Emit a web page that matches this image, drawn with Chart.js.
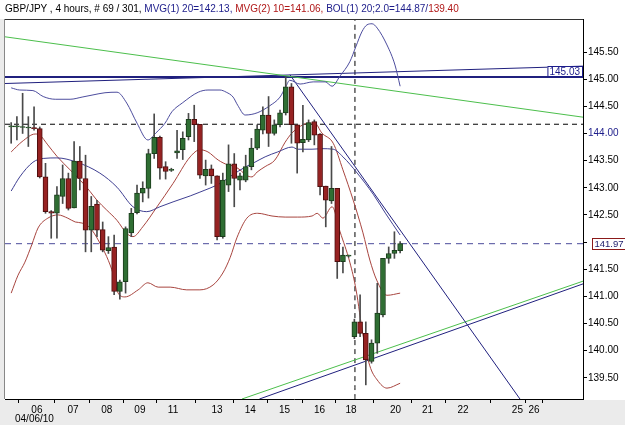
<!DOCTYPE html>
<html><head><meta charset="utf-8">
<script src="https://cdn.jsdelivr.net/npm/chart.js@4.4.1/dist/chart.umd.min.js"></script>
<style>
html,body{margin:0;padding:0;background:#fff;}
#wrap{position:relative;width:625px;height:425px;overflow:hidden;}
canvas{position:absolute;left:0;top:0;}
#title{position:absolute;left:5px;top:3px;font:10px "Liberation Sans",Arial,sans-serif;white-space:nowrap;color:#000;}
#date{position:absolute;left:15px;top:413px;font:10px "Liberation Sans",Arial,sans-serif;color:#000;}
.nv{color:#1c1c8a}.rd{color:#b01818}
</style></head><body>
<div id="wrap"><canvas id="c" width="625" height="425"></canvas>
<div id="title">GBP/JPY , 4 hours, # 69 / 301, <span class="nv">MVG(1) 20=142.13, </span><span class="rd">MVG(2) 10=141.06, </span><span class="nv">BOL(1) 20;2.0=144.87/</span><span class="rd">139.40</span></div>
<div id="date">04/06/10</div></div>
<script>
// ---- candle data (4-hour bars) ----
const opens  = [144.12,144.12,144.11,144.10,144.10,144.09,143.20,142.56,142.53,142.84,143.17,142.63,143.49,143.17,142.22,142.70,142.23,141.84,141.91,141.09,141.27,142.17,142.54,142.90,142.99,143.63,143.93,143.39,143.32,143.64,143.70,143.94,144.26,144.17,143.22,143.35,143.22,142.10,143.05,143.44,143.14,143.14,143.39,143.73,144.06,144.34,144.00,144.16,144.38,144.86,144.16,143.83,143.88,144.22,143.99,143.03,142.76,142.99,141.64,141.74,140.26,140.53,140.32,139.80,140.14,140.66,141.70,141.79,141.84];
const highs  = [144.20,144.31,144.74,144.31,144.49,144.12,143.45,142.58,143.02,143.42,143.27,143.85,143.76,143.60,142.84,142.77,142.37,142.10,142.13,141.30,142.28,142.62,143.05,143.11,143.71,144.36,143.95,143.48,143.36,144.06,144.03,144.37,144.52,144.17,143.51,143.42,143.22,143.27,143.79,143.63,143.27,143.60,143.91,144.16,144.49,144.68,144.25,144.43,145.04,144.92,144.16,144.52,144.25,144.25,144.00,143.03,143.76,142.99,141.91,141.76,140.58,141.03,140.53,140.20,141.24,141.70,141.91,142.19,142.01];
const lows   = [143.82,143.88,144.00,143.76,144.06,143.18,142.53,142.07,142.07,142.71,142.59,142.63,142.96,141.82,141.82,142.10,141.82,141.79,141.03,140.95,141.06,142.10,142.52,142.74,142.81,143.54,143.16,143.16,143.30,143.54,143.52,143.88,143.85,143.17,143.05,143.08,142.04,142.07,142.93,142.65,142.96,143.11,143.33,143.70,143.99,143.76,143.97,144.12,144.34,143.82,143.27,143.66,143.85,143.79,142.87,142.28,142.71,141.33,141.43,141.72,140.22,140.26,139.37,139.77,139.95,140.62,141.61,141.70,141.80];
const closes = [144.14,144.13,144.12,144.11,144.09,143.20,142.56,142.53,142.87,143.17,142.62,143.49,143.17,142.22,142.66,142.22,141.85,141.90,141.09,141.27,142.25,142.53,142.90,142.99,143.63,143.93,143.36,143.30,143.34,143.68,143.91,144.26,144.16,143.23,143.34,143.22,142.10,143.14,143.44,143.17,143.22,143.39,143.73,144.08,144.34,144.00,144.16,144.38,144.86,144.16,143.82,143.89,144.20,143.97,143.02,142.77,142.99,141.64,141.76,141.74,140.53,140.32,139.83,140.14,140.69,141.70,141.79,141.85,141.97];

// ---- x axis day labels (positions in bar units) ----
const xTickPos    = [4.5,10.8,16.7,22.5,28.3,36,41.8,47.8,53.9,59.4,67.2,72.8,79,88.5,91.4];
const xTickLabels = ['06','07','08','09','11','13','14','15','16','18','20','21','22','25','26'];

// ---- indicators ----
const bbUpperX = [0,1.5,3.8,5.6,7.7,10.3,12.4,14.3,16.4,18.5,20.2,22,23.9,25.3,26.9,28.1,29.9,32.7,34.4,36.5,37.6,38.8,39.6,40.9,43,45.2,47,48,48.7,50.5,52.8,54.9,56.1,57.5,59.2,60.3,61.3,62.2,63.1,64,65.7,67.1,68];
const bbUpperY = [144.84,144.80,144.79,144.68,144.63,144.63,144.67,144.71,144.75,144.76,144.56,144.19,143.88,144.01,144.19,144.40,144.56,144.76,144.80,144.80,144.76,144.67,144.52,144.34,144.38,144.51,144.67,144.86,144.98,144.91,144.95,144.95,144.87,145.06,145.32,145.61,145.87,146.00,146.02,145.94,145.63,145.26,144.87];
const bbMidX = [0,1.5,3.8,5.6,8,11.5,15.5,18.5,21.3,23.7,26,28.3,31.3,33,36.5,38.6,40.9,42.6,44.4,46.6,49.1,50.1,52.6,54.3,56.3,58,60.5,63.3,65.5,68];
const bbMidY = [142.94,143.20,143.47,143.54,143.55,143.47,143.27,143.01,142.65,142.56,142.65,142.74,142.85,142.92,143.08,143.23,143.38,143.47,143.57,143.66,143.75,143.71,143.71,143.72,143.71,143.57,143.27,142.88,142.52,142.13];
const sma10X = [0,1.9,4.2,5,6.4,8,10.3,12.6,13.8,15,16.7,18.5,20.2,21.3,23,25.5,28.3,31.3,33,34.4,36.2,37.9,38.9,40,41.1,42.1,43,44.4,46.1,47.9,49.1,50.1,51.9,53.1,54.3,56.3,58,59.8,61.5,62.7,63.9,65.7,68];
const sma10Y = [143.66,143.85,143.99,143.97,143.79,143.58,143.33,143.08,142.93,142.77,142.59,142.40,142.16,142.10,142.28,142.65,143.08,143.57,143.70,143.66,143.51,143.42,143.40,143.33,143.23,143.20,143.29,143.39,143.51,143.84,144.01,144.10,144.19,144.19,144.01,143.82,143.33,142.77,142.17,141.67,141.30,141.02,141.06];
const bbLowX = [0,1.2,2.4,3.6,4.7,6.4,8.2,9.9,11.2,12.4,13.8,15.2,17.6,18.7,19.9,22.2,23.9,25.7,27.8,30.7,33,35.3,37,38.3,39.5,41.2,43.1,45.6,47.9,50.1,52.6,53.5,54.5,56.1,57.5,59.2,60.3,61.5,62.7,64,65.7,68];
const bbLowY = [141.06,141.39,141.63,141.95,142.26,142.44,142.50,142.44,142.37,142.35,142.26,142.04,141.49,141.06,140.99,141.12,141.25,141.17,141.17,141.12,141.12,141.21,141.43,141.72,142.09,142.44,142.53,142.48,142.46,142.46,142.48,142.53,142.44,142.65,142.19,141.63,141.12,140.29,139.72,139.46,139.31,139.40];

// ---- drawn trend lines / levels (x in bar units, y in price) ----
const greenTopLine   = {x:[-1.08,99.97], y:[145.78,144.30]};
const navyLevelLine  = {x:[-1.08,99.97], y:[145.04,145.04]};
const navyRiseTop    = {x:[-1.08,99.97], y:[144.92,145.24]};
const navyDownLine   = {x:[48.74,88.95], y:[145.08,139.11]};
const greenUpLine    = {x:[40.35,99.97], y:[139.11,141.28]};
const navyUpLine     = {x:[43.4,99.97],  y:[139.11,141.23]};
const blackDashLevel = 144.17;
const lastPrice      = 141.97;
const levelLabel     = '145.03';
const vLineX         = 60.1;

const X_MIN = -1.08, X_MAX = 99.97, Y_MIN = 139.11, Y_MAX = 146.108;

const pts = (xs, ys) => xs.map((x, i) => ({x, y: ys[i]}));
const idx = opens.map((_, i) => i);
const up = idx.map(i => closes[i] >= opens[i]);

const bodies = idx.map(i => ({x: i, y: [Math.min(opens[i], closes[i]), Math.max(opens[i], closes[i])]}));
const wicks  = idx.map(i => ({x: i, y: [lows[i], highs[i]]}));

function lineDs(data, color, width, dash, order) {
  return {type:'line', data, borderColor:color, borderWidth:width, borderDash:dash||[],
    pointRadius:0, fill:false, cubicInterpolationMode:'monotone', order};
}

const bgPlugin = {
  id:'bg',
  beforeDraw(chart){
    const {ctx, chartArea:a, width, height} = chart;
    ctx.save();
    ctx.fillStyle = '#ffffff'; ctx.fillRect(0,0,width,height);
    ctx.fillStyle = '#ebebeb';
    ctx.fillRect(0, a.bottom + 1, width, height - a.bottom);
    ctx.fillRect(0, a.top, a.left - 1, height - a.top);
    ctx.restore();
  },
  afterDraw(chart){
    const {ctx, chartArea:a, scales} = chart;
    ctx.save();
    ctx.strokeStyle = '#333'; ctx.lineWidth = 1;
    ctx.beginPath(); ctx.moveTo(a.left, a.top + 0.5); ctx.lineTo(a.right, a.top + 0.5); ctx.stroke();
    ctx.strokeStyle = '#888';
    ctx.beginPath(); ctx.moveTo(a.left - 0.5, a.top); ctx.lineTo(a.left - 0.5, a.bottom); ctx.stroke();
    ctx.font = '10px "Liberation Sans", Arial, sans-serif';
    ctx.textBaseline = 'middle';
    // level label box inside plot
    const yl = scales.y.getPixelForValue(navyLevelLine.y[1]);
    const w1 = ctx.measureText(levelLabel).width + 4;
    const bx = a.right - 1 - w1, by = Math.round(yl) - 11;
    ctx.fillStyle = '#fff'; ctx.fillRect(bx, by, w1, 10);
    ctx.strokeStyle = '#1c1c8a'; ctx.strokeRect(bx + 0.5, by + 0.5, w1, 10);
    ctx.fillStyle = '#1c1c8a'; ctx.textAlign = 'left'; ctx.fillText(levelLabel, bx + 2, by + 6);
    // last price box on axis
    ctx.font = '9.5px "Liberation Sans", Arial, sans-serif';
    const yp = Math.round(scales.y.getPixelForValue(lastPrice));
    const txt = lastPrice.toFixed(2);
    const w2 = ctx.measureText(txt).width + 4;
    const px = a.right + 9;
    ctx.fillStyle = '#fff'; ctx.fillRect(px, yp - 6, w2, 12);
    ctx.strokeStyle = '#8b1a1a'; ctx.strokeRect(px + 0.5, yp - 5.5, w2, 11);
    ctx.fillStyle = '#1c1c6a'; ctx.fillText(txt, px + 2.5, yp + 0.5);
    ctx.restore();
  }
};

new Chart(document.getElementById('c'), {
  type:'bar',
  data:{datasets:[
    {type:'bar', data:bodies, grouped:false, barThickness:5, minBarLength:1, borderSkipped:false, borderWidth:1,
     backgroundColor: idx.map(i => up[i] ? '#2f6e33' : '#962222'),
     borderColor: idx.map(i => up[i] ? '#1b3d1c' : '#4e0e0e'), order:0},
    {type:'bar', data:wicks, grouped:false, barThickness:1, borderWidth:0, backgroundColor:'#4a4a4a', order:1},
    lineDs(pts(bbUpperX,bbUpperY), '#4d4d9e', 1, null, 2),
    lineDs(pts(bbMidX,bbMidY), '#3f3f92', 1, null, 2),
    lineDs(pts(sma10X,sma10Y), '#a8453f', 1, null, 2),
    lineDs(pts(bbLowX,bbLowY), '#a8453f', 1, null, 2),
    lineDs(pts(greenTopLine.x,greenTopLine.y), '#4cbf4c', 1, null, 3),
    lineDs(pts(navyLevelLine.x,navyLevelLine.y), '#20207e', 2, null, 3),
    lineDs(pts(navyRiseTop.x,navyRiseTop.y), '#20207e', 1, null, 3),
    lineDs(pts(navyDownLine.x,navyDownLine.y), '#20207e', 1, null, 3),
    lineDs(pts(greenUpLine.x,greenUpLine.y), '#4cbf4c', 1, null, 3),
    lineDs(pts(navyUpLine.x,navyUpLine.y), '#20207e', 1, null, 3),
    lineDs([{x:X_MIN,y:blackDashLevel},{x:X_MAX,y:blackDashLevel}], '#000', 1, [5,4], 4),
    lineDs([{x:X_MIN,y:lastPrice},{x:X_MAX,y:lastPrice}], '#4a4a9a', 1, [6,5], 4),
    lineDs([{x:vLineX,y:Y_MIN},{x:vLineX,y:Y_MAX}], '#000', 1, [5,4], 4)
  ]},
  options:{
    responsive:false, animation:false, devicePixelRatio:1,
    layout:{padding:{top:19, left:5, right:0, bottom:0}},
    plugins:{legend:{display:false}, tooltip:{enabled:false}, title:{display:false}},
    scales:{
      x:{type:'linear', min:X_MIN, max:X_MAX, offset:false,
        afterBuildTicks(s){ s.ticks = xTickPos.map(v => ({value:v})); },
        afterFit(s){ s.height = 26; },
        ticks:{autoSkip:false, maxRotation:0, padding:1, color:'#000',
          font:{family:'"Liberation Sans", Arial, sans-serif', size:10},
          callback:(v, i) => xTickLabels[i]},
        grid:{drawOnChartArea:false, drawTicks:true, tickLength:4, color:'#000'},
        border:{display:true, color:'#000', width:1}},
      y:{type:'linear', position:'right', min:Y_MIN, max:Y_MAX,
        afterBuildTicks(s){ const t=[]; for(let v=139.5; v<=145.51; v+=0.5) t.push({value:Math.round(v*100)/100}); s.ticks=t; },
        afterFit(s){ s.width = 42; },
        ticks:{padding:1, color:(c) => Math.abs(c.tick.value-144)<1e-6 ? '#1c1c8a' : '#000',
          font:{family:'"Liberation Sans", Arial, sans-serif', size:10},
          callback:(v) => Math.abs(v-142)<1e-6 ? '' : v.toFixed(2)},
        grid:{drawOnChartArea:false, drawTicks:true, tickLength:4, color:'#000'},
        border:{display:true, color:'#000', width:1}}
    }
  },
  plugins:[bgPlugin]
});
</script>
</body></html>
